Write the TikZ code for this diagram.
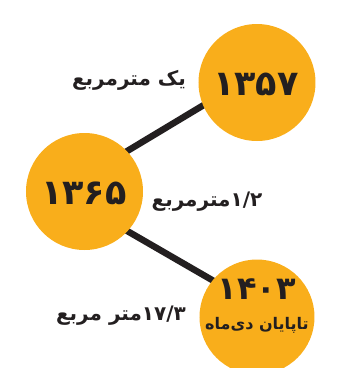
\documentclass[tikz,border=0pt]{standalone}
\usepackage{fontspec}
\TeXXeTstate=1
\newfontfamily\fafont[Script=Arabic]{DejaVu Sans}
\definecolor{disc}{HTML}{F9AE1B}
\definecolor{ink}{HTML}{231F20}
\tikzset{
  yeardisc/.style={circle,fill=disc,minimum size=117pt,inner sep=0pt},
  yeartext/.style={font=\fafont\bfseries\fontsize{35}{35}\selectfont,text=ink},
  lbl/.style={font=\fafont\bfseries\fontsize{20}{22}\selectfont,text=ink,inner sep=0pt},
  link/.style={line width=6.5pt,draw=ink}
}
\begin{document}
\begin{tikzpicture}[x=1pt,y=-1pt]
\clip (0,0) rectangle (353,368);
\useasboundingbox (0,0) rectangle (353,368);
% anchors for the connectors
\coordinate (a1) at (84,177);
\coordinate (a2) at (257,73);
\coordinate (b1) at (84,206);
\coordinate (b2) at (257,306);
\draw[link] (a1) -- (a2);
\draw[link] (b1) -- (b2);
\node[yeardisc] (c1) at (257,82.5) {};
\node[yeardisc] (c2) at (84.5,191.5) {};
\node[yeardisc,minimum size=115pt] (c3) at (257,317) {};
\node[yeartext] (y1) at (256,84) {\beginR ۱۳۵۷\endR};
\node[yeartext] (y2) at (84,193) {\beginR ۱۳۶۵\endR};
\node[yeartext,font=\fafont\bfseries\fontsize{32}{32}\selectfont] (y3) at (257,289) {\beginR ۱۴۰۳\endR};
\node[lbl,font=\fafont\bfseries\fontsize{16}{18}\selectfont] (t3) at (257,325) {\beginR تاپایان دی‌ماه\endR};
\node[lbl] (l1) at (129,80) {\beginR یک مترمربع\endR};
\node[lbl] (l2) at (207,202) {\beginR\beginL ۱/۲\endL مترمربع\endR};
\node[lbl] (l3) at (121,316) {\beginR\beginL ۱۷/۳\endL متر مربع\endR};
\end{tikzpicture}
\end{document}
